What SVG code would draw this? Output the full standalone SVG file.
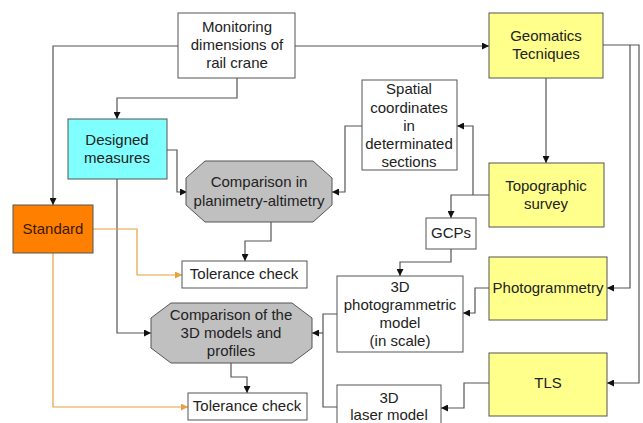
<svg xmlns="http://www.w3.org/2000/svg" width="643" height="423" viewBox="0 0 643 423">
<style>
.box{stroke:#555;stroke-width:1}
.w{fill:#fff}
.y{fill:#ffff8c}
.c{fill:#80ffff}
.o{fill:#ff8000}
.g{fill:#c0c0c0}
text{font-family:"Liberation Sans",Arial,sans-serif;font-size:15px;fill:#222;text-anchor:middle}
.con path{fill:none;stroke:#555;stroke-width:1.2}
.con path.or{stroke:#e8a040}
</style>
<defs>
<marker id="a" viewBox="0 0 10 10" refX="10" refY="5" markerWidth="7" markerHeight="7" markerUnits="userSpaceOnUse" orient="auto"><path d="M0,0 L10,5 L0,10 z" fill="#111"/></marker>
<marker id="ao" viewBox="0 0 10 10" refX="10" refY="5" markerWidth="7" markerHeight="7" markerUnits="userSpaceOnUse" orient="auto"><path d="M0,0 L10,5 L0,10 z" fill="#e8a040"/></marker>
</defs>
<rect width="643" height="423" fill="#fff"/>
<g class="con">
<path d="M178,46 H53 V205" marker-end="url(#a)"/>
<path d="M237,78 V98 H117 V119" marker-end="url(#a)"/>
<path d="M295,46 H489" marker-end="url(#a)"/>
<path d="M167,150 H177 V192 H187" marker-end="url(#a)"/>
<path d="M117,179 V333 H151" marker-end="url(#a)"/>
<path class="or" d="M93,229 H137 V275 H182" marker-end="url(#ao)"/>
<path class="or" d="M53,253 V407 H188" marker-end="url(#ao)"/>
<path d="M271,222 V241 H245 V261" marker-end="url(#a)"/>
<path d="M231,363 V377 H247 V393" marker-end="url(#a)"/>
<path d="M362,126 H345 V192 H332" marker-end="url(#a)"/>
<path d="M489,195 H451 V218" marker-end="url(#a)"/>
<path d="M473,195 V126 H457" marker-end="url(#a)"/>
<path d="M546,78 V163" marker-end="url(#a)"/>
<path d="M603,45 H639 V383 H607" marker-end="url(#a)"/>
<path d="M630,45 V288 H607" marker-end="url(#a)"/>
<path d="M451,249 V262 H400 V276" marker-end="url(#a)"/>
<path d="M489,288 H475 V313 H463" marker-end="url(#a)"/>
<path d="M489,383 H464 V408 H441" marker-end="url(#a)"/>
<path d="M337,314 H323 V407 H337"/>
<path d="M323,333 H312" marker-end="url(#a)"/>
</g>
<g id="monitoring"><rect class="box w" x="178" y="13" width="117" height="65"/><text x="237" y="32">Monitoring</text><text x="237" y="50">dimensions of</text><text x="237" y="68">rail crane</text></g>
<g id="designed"><rect class="box c" x="68" y="119" width="99" height="60"/><text x="117" y="145">Designed</text><text x="117" y="163">measures</text></g>
<g id="standard"><rect class="box o" x="13" y="205" width="80" height="48"/><text x="53" y="234" style="fill:#3a1a00">Standard</text></g>
<g id="geomatics"><rect class="box y" x="489" y="13" width="114" height="65"/><text x="546" y="41">Geomatics</text><text x="546" y="59">Tecniques</text></g>
<g id="spatial"><rect class="box w" x="362" y="80" width="95" height="90"/><text x="409" y="94">Spatial</text><text x="409" y="113">coordinates</text><text x="409" y="131">in</text><text x="409" y="149">determinated</text><text x="409" y="167">sections</text></g>
<g id="topographic"><rect class="box y" x="489" y="163" width="115" height="64"/><text x="546" y="191">Topographic</text><text x="546" y="209">survey</text></g>
<g id="comparison1"><polygon class="box g" points="205,161 313,161 332,178 332,205 313,222 205,222 186,205 186,178"/><text x="259" y="187">Comparison in</text><text x="259" y="206">planimetry-altimetry</text></g>
<g id="gcps"><rect class="box w" x="426" y="218" width="50" height="31"/><text x="451" y="238">GCPs</text></g>
<g id="tolerance1"><rect class="box w" x="182" y="261" width="125" height="27"/><text x="244" y="279">Tolerance check</text></g>
<g id="photomodel"><rect class="box w" x="337" y="276" width="126" height="76"/><text x="400" y="292">3D</text><text x="400" y="310">photogrammetric</text><text x="400" y="328">model</text><text x="400" y="346">(in scale)</text></g>
<g id="photogrammetry"><rect class="box y" x="489" y="257" width="118" height="63"/><text x="548" y="293">Photogrammetry</text></g>
<g id="comparison2"><polygon class="box g" points="171,303 292,303 312,318 312,348 292,363 171,363 151,348 151,318"/><text x="231" y="320">Comparison of the</text><text x="231" y="338">3D models and</text><text x="231" y="356">profiles</text></g>
<g id="tls"><rect class="box y" x="489" y="353" width="118" height="63"/><text x="548" y="388">TLS</text></g>
<g id="lasermodel"><rect class="box w" x="337" y="385" width="104" height="45"/><text x="389" y="403">3D</text><text x="389" y="420">laser model</text></g>
<g id="tolerance2"><rect class="box w" x="188" y="393" width="119" height="27"/><text x="247" y="411">Tolerance check</text></g>
</svg>
